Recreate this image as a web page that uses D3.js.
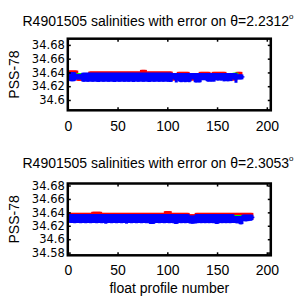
<!DOCTYPE html>
<html>
<head>
<meta charset="utf-8">
<script src="https://cdn.jsdelivr.net/npm/d3@7"></script>
<style>
  body { margin: 0; background: #fff; }
  svg { display: block; }
  text { font-family: "Liberation Sans", Arial, sans-serif; fill: #000; }
</style>
</head>
<body>
<div id="chart"></div>
<script>
// ---- data ----
const xTicks = [0, 50, 100, 150, 200];
const yTicksA = [34.6, 34.62, 34.64, 34.66, 34.68];
const yTicksB = [34.58, 34.6, 34.62, 34.64, 34.66, 34.68];
const titleA = 'R4901505 salinities with error on θ=2.2312';
const titleB = 'R4901505 salinities with error on θ=2.3053';
const yLabel = 'PSS-78';
const xLabel = 'float profile number';
const mapErr = 0.005;

// panel A: mapped (red), float (blue) per profile
const mapSalA = [
  34.6377,34.6377,34.6377,34.6377,34.6377,34.6377,34.6377,34.6377,34.6377,34.6330,
  34.6330,34.6330,34.6330,34.6330,34.6330,34.6330,34.6330,34.6330,34.6330,34.6330,
  34.6330,34.6362,34.6362,34.6362,34.6362,34.6362,34.6362,34.6362,34.6362,34.6362,
  34.6362,34.6362,34.6362,34.6362,34.6362,34.6362,34.6362,34.6362,34.6362,34.6362,
  34.6362,34.6362,34.6362,34.6362,34.6362,34.6362,34.6362,34.6362,34.6362,34.6362,
  34.6362,34.6362,34.6362,34.6362,34.6362,34.6362,34.6362,34.6362,34.6362,34.6362,
  34.6362,34.6362,34.6362,34.6362,34.6362,34.6362,34.6362,34.6362,34.6362,34.6362,
  34.6362,34.6362,34.6362,34.6387,34.6387,34.6387,34.6387,34.6387,34.6362,34.6362,
  34.6362,34.6362,34.6362,34.6362,34.6362,34.6362,34.6362,34.6362,34.6362,34.6362,
  34.6362,34.6362,34.6362,34.6362,34.6362,34.6362,34.6362,34.6362,34.6362,34.6362,
  34.6362,34.6362,34.6362,34.6362,34.6335,34.6335,34.6335,34.6335,34.6335,34.6335,
  34.6358,34.6358,34.6358,34.6358,34.6358,34.6358,34.6358,34.6358,34.6358,34.6358,
  34.6358,34.6335,34.6335,34.6335,34.6335,34.6335,34.6335,34.6335,34.6335,34.6335,
  34.6335,34.6335,34.6358,34.6358,34.6358,34.6358,34.6358,34.6358,34.6358,34.6358,
  34.6358,34.6358,34.6335,34.6335,34.6335,34.6358,34.6358,34.6358,34.6358,34.6358,
  34.6358,34.6358,34.6358,34.6358,34.6358,34.6358,34.6358,34.6358,34.6335,34.6335,
  34.6335,34.6335,34.6335,34.6335,34.6335,34.6335,34.6335,34.6335,34.6335,34.6358,
  34.6358,34.6358,34.6358,34.6358
];
const floatSalA = [
  34.6340,34.6339,34.6339,34.6339,34.6339,34.6339,34.6340,34.6338,34.6338,34.6338,
  34.6338,34.6338,34.6338,34.6338,
  34.6332,34.6330,34.6332,34.6334,34.6332,34.6330,34.6332,34.6332,34.6334,34.6332,
  34.6330,34.6332,34.6334,34.6332,34.6332,34.6330,34.6328,34.6332,34.6334,34.6332,
  34.6332,34.6330,34.6332,34.6334,34.6332,34.6332,34.6330,34.6332,34.6332,34.6334,
  34.6332,34.6330,34.6328,34.6332,34.6334,34.6332,34.6332,34.6330,34.6332,34.6334,
  34.6332,34.6332,34.6330,34.6332,34.6334,34.6332,34.6330,34.6332,34.6332,34.6334,
  34.6332,34.6328,34.6332,34.6334,34.6332,34.6332,34.6330,34.6332,34.6334,34.6332,
  34.6332,34.6330,34.6332,34.6332,34.6334,34.6332,34.6330,34.6328,34.6332,34.6334,
  34.6332,34.6332,34.6330,34.6332,34.6334,34.6332,34.6332,34.6330,34.6332,34.6334,
  34.6332,34.6330,34.6332,34.6334,34.6332,34.6332,34.6330,34.6332,34.6328,34.6330,
  34.6350,34.6350,34.6345,34.6340,34.6322,34.6345,34.6340,
  34.6330,34.6327,34.6324,34.6330,34.6327,34.6330,34.6324,34.6327,34.6330,34.6327,34.6324,34.6330,
  34.6347,34.6345,34.6347,34.6345,
  34.6324,34.6322,34.6324,34.6327,34.6322,34.6324,
  34.6340,34.6338,34.6340,34.6342,34.6338,34.6340,
  34.6332,34.6328,34.6330,34.6332,34.6328,34.6330,34.6332,34.6328,
  34.6345,34.6338,34.6342,34.6335,34.6345,34.6340,34.6335,34.6342,
  34.6338,34.6330,34.6335,34.6332,34.6338,34.6330,34.6335,34.6340,34.6332,
  34.6345,34.6348,34.6345,34.6342,34.6320,
  34.6335,34.6335,34.6335,34.6335,34.6335,34.6335,34.6335
];
const floatErrA = [
  0.0050,0.0061,0.0066,0.0066,0.0066,0.0066,0.0060,0.0038,0.0038,0.0038,
  0.0038,0.0038,0.0038,0.0038,
  0.0063,0.0065,0.0063,0.0061,0.0063,0.0065,0.0063,0.0063,0.0061,0.0063,
  0.0065,0.0063,0.0061,0.0063,0.0063,0.0065,0.0067,0.0063,0.0061,0.0063,
  0.0063,0.0065,0.0063,0.0061,0.0063,0.0063,0.0065,0.0063,0.0063,0.0061,
  0.0063,0.0065,0.0067,0.0063,0.0061,0.0063,0.0063,0.0065,0.0063,0.0061,
  0.0063,0.0063,0.0065,0.0063,0.0061,0.0063,0.0065,0.0063,0.0063,0.0061,
  0.0063,0.0067,0.0063,0.0061,0.0063,0.0063,0.0065,0.0063,0.0061,0.0063,
  0.0063,0.0065,0.0063,0.0063,0.0061,0.0063,0.0065,0.0067,0.0063,0.0061,
  0.0063,0.0063,0.0065,0.0063,0.0061,0.0063,0.0063,0.0065,0.0063,0.0061,
  0.0063,0.0065,0.0063,0.0061,0.0063,0.0063,0.0065,0.0063,0.0067,0.0065,
  0.0040,0.0040,0.0045,0.0050,0.0068,0.0045,0.0050,
  0.0060,0.0063,0.0066,0.0060,0.0063,0.0060,0.0066,0.0063,0.0060,0.0063,0.0066,0.0060,
  0.0043,0.0045,0.0043,0.0045,
  0.0066,0.0068,0.0066,0.0063,0.0068,0.0066,
  0.0050,0.0052,0.0050,0.0048,0.0052,0.0050,
  0.0058,0.0062,0.0060,0.0058,0.0062,0.0060,0.0058,0.0062,
  0.0045,0.0052,0.0048,0.0055,0.0045,0.0050,0.0055,0.0048,
  0.0052,0.0060,0.0055,0.0058,0.0052,0.0060,0.0055,0.0050,0.0058,
  0.0045,0.0042,0.0045,0.0048,0.0070,
  0.0035,0.0035,0.0035,0.0035,0.0035,0.0035,0.0010
];
// calibrated (green), only where it shows
const calProfA = [10, 11, 12, 13, 14, 141, 167, 168, 169, 170];
const calSalA  = [34.6372,34.6372,34.6372,34.6372,34.6372,34.6378,34.6375,34.6375,34.6375,34.6375];
const calErrA  = [0.0015,0.0015,0.0015,0.0015,0.0015,0.0010,0.0020,0.0020,0.0020,0.0020];

// panel B
const mapSalB = [
  34.6342,34.6342,34.6342,34.6342,34.6342,34.6342,34.6342,34.6342,34.6342,34.6342,
  34.6342,34.6342,34.6342,34.6342,34.6342,34.6342,34.6342,34.6342,34.6342,34.6342,
  34.6342,34.6342,34.6342,34.6342,34.6358,34.6358,34.6358,34.6358,34.6358,34.6358,
  34.6358,34.6358,34.6358,34.6342,34.6342,34.6342,34.6342,34.6342,34.6342,34.6342,
  34.6342,34.6342,34.6342,34.6342,34.6342,34.6342,34.6342,34.6342,34.6342,34.6342,
  34.6342,34.6342,34.6342,34.6342,34.6342,34.6342,34.6342,34.6342,34.6342,34.6342,
  34.6342,34.6342,34.6342,34.6342,34.6342,34.6342,34.6342,34.6342,34.6342,34.6342,
  34.6342,34.6342,34.6342,34.6342,34.6342,34.6342,34.6342,34.6342,34.6342,34.6342,
  34.6342,34.6342,34.6342,34.6342,34.6342,34.6342,34.6342,34.6342,34.6342,34.6342,
  34.6342,34.6342,34.6342,34.6342,34.6342,34.6342,34.6342,34.6367,34.6367,34.6367,
  34.6367,34.6367,34.6367,34.6342,34.6342,34.6342,34.6342,34.6342,34.6342,34.6342,
  34.6342,34.6342,34.6342,34.6342,34.6342,34.6342,34.6342,34.6342,34.6342,34.6342,
  34.6342,34.6320,34.6320,34.6320,34.6320,34.6320,34.6320,34.6320,34.6342,34.6342,
  34.6342,34.6342,34.6342,34.6342,34.6342,34.6342,34.6342,34.6342,34.6342,34.6342,
  34.6342,34.6342,34.6342,34.6342,34.6342,34.6342,34.6342,34.6342,34.6342,34.6342,
  34.6342,34.6342,34.6342,34.6342,34.6342,34.6342,34.6342,34.6342,34.6342,34.6342,
  34.6342,34.6342,34.6342,34.6342,34.6342,34.6342,34.6342,34.6342,34.6342,34.6342,
  34.6342,34.6342,34.6342,34.6342,34.6342,34.6342,34.6342,34.6342,34.6342,34.6342,
  34.6342,34.6342,34.6342,34.6342,34.6342
];
const floatSalB = [
  34.6317,34.6309,34.6307,34.6307,34.6309,34.6307,34.6305,34.6307,34.6309,34.6307,
  34.6307,34.6309,34.6305,34.6307,34.6307,34.6309,34.6307,34.6305,34.6307,34.6309,
  34.6307,34.6307,34.6305,34.6309,34.6307,34.6307,34.6309,34.6307,34.6305,34.6307,
  34.6307,34.6309,34.6307,34.6305,34.6307,34.6307,34.6309,34.6302,34.6305,34.6307,
  34.6309,34.6307,34.6307,34.6305,34.6307,34.6309,34.6307,34.6307,34.6305,34.6307,
  34.6307,34.6309,34.6307,34.6305,34.6307,34.6307,34.6309,34.6307,34.6302,34.6307,
  34.6309,34.6307,34.6307,34.6305,34.6307,34.6309,34.6307,34.6307,34.6305,34.6307,
  34.6307,34.6309,34.6307,34.6305,34.6307,34.6307,34.6309,34.6307,34.6305,34.6307,
  34.6307,34.6305,34.6300,34.6300,34.6302,34.6300,34.6305,34.6307,34.6309,34.6307,
  34.6307,34.6305,34.6307,34.6309,34.6307,34.6307,34.6305,34.6307,34.6309,34.6307,
  34.6307,34.6305,34.6307,34.6309,34.6307,34.6305,34.6307,34.6300,34.6300,34.6302,
  34.6307,34.6317,34.6307,34.6305,34.6307,34.6309,34.6307,34.6305,34.6307,34.6309,34.6307,
  34.6295,34.6292,34.6295,34.6290,34.6292,34.6295,34.6292,
  34.6307,34.6305,34.6307,34.6309,34.6307,34.6305,34.6307,34.6309,34.6307,34.6305,34.6307,34.6309,
  34.6307,34.6305,34.6307,34.6309,34.6307,34.6305,34.6307,34.6307,34.6300,34.6300,
  34.6302,34.6307,34.6309,34.6307,34.6305,34.6307,34.6309,34.6307,34.6305,34.6307,
  34.6309,34.6307,34.6305,34.6307,34.6309,34.6307,
  34.6295,34.6293,34.6295,34.6290,34.6295,34.6293,34.6285,34.6283,34.6285,
  34.6317,34.6320,34.6317,34.6315,34.6320,34.6317,34.6320,34.6323,34.6320,34.6325,
  34.6325
];
const floatErrB = [
  0.0055,0.0063,0.0065,0.0065,0.0063,0.0065,0.0067,0.0065,0.0063,0.0065,
  0.0065,0.0063,0.0067,0.0065,0.0065,0.0063,0.0065,0.0067,0.0065,0.0063,
  0.0065,0.0065,0.0067,0.0063,0.0065,0.0065,0.0063,0.0065,0.0067,0.0065,
  0.0065,0.0063,0.0065,0.0067,0.0065,0.0065,0.0063,0.0070,0.0067,0.0065,
  0.0063,0.0065,0.0065,0.0067,0.0065,0.0063,0.0065,0.0065,0.0067,0.0065,
  0.0065,0.0063,0.0065,0.0067,0.0065,0.0065,0.0063,0.0065,0.0070,0.0065,
  0.0063,0.0065,0.0065,0.0067,0.0065,0.0063,0.0065,0.0065,0.0067,0.0065,
  0.0065,0.0063,0.0065,0.0067,0.0065,0.0065,0.0063,0.0065,0.0067,0.0065,
  0.0065,0.0067,0.0072,0.0072,0.0070,0.0072,0.0067,0.0065,0.0063,0.0065,
  0.0065,0.0067,0.0065,0.0063,0.0065,0.0065,0.0067,0.0065,0.0063,0.0065,
  0.0065,0.0067,0.0065,0.0063,0.0065,0.0067,0.0065,0.0072,0.0072,0.0070,
  0.0065,0.0055,0.0065,0.0067,0.0065,0.0063,0.0065,0.0067,0.0065,0.0063,0.0065,
  0.0055,0.0058,0.0055,0.0060,0.0058,0.0055,0.0058,
  0.0065,0.0067,0.0065,0.0063,0.0065,0.0067,0.0065,0.0063,0.0065,0.0067,0.0065,0.0063,
  0.0065,0.0067,0.0065,0.0063,0.0065,0.0067,0.0065,0.0065,0.0072,0.0072,
  0.0070,0.0065,0.0063,0.0065,0.0067,0.0065,0.0063,0.0065,0.0067,0.0065,
  0.0063,0.0065,0.0067,0.0065,0.0063,0.0065,
  0.0050,0.0052,0.0050,0.0055,0.0050,0.0052,0.0060,0.0062,0.0060,
  0.0048,0.0045,0.0048,0.0050,0.0045,0.0048,0.0045,0.0042,0.0045,0.0040,
  0.0012
];
const calProfB = [167, 168, 170, 171, 173, 175];
const calSalB  = [34.6350,34.6350,34.6350,34.6350,34.6350,34.6350];
const calErrB  = [0.0008,0.0008,0.0008,0.0008,0.0008,0.0008];

// ---- drawing ----
const width = 300, height = 300;
const svg = d3.select('#chart').append('svg')
  .attr('width', width)
  .attr('height', height);

function drawPanel(cfg) {
  const x = d3.scaleLinear().domain([0, 204]).range([cfg.left, cfg.right]);
  const y = d3.scaleLinear().domain(cfg.yDomain).range([cfg.bottom, cfg.top]);
  const g = svg.append('g');

  g.append('clipPath').attr('id', cfg.id)
    .append('rect')
    .attr('x', cfg.left).attr('y', cfg.top)
    .attr('width', cfg.right - cfg.left).attr('height', cfg.bottom - cfg.top);

  const plot = g.append('g').attr('clip-path', `url(#${cfg.id})`);

  // errorbars drawn as thin filled columns, one per profile
  const bars = (data, color) => plot.append('g')
    .selectAll('rect')
    .data(data)
    .join('rect')
    .attr('x', d => x(d.p) - 1.5)
    .attr('width', 3)
    .attr('y', d => y(d.s + d.e))
    .attr('height', d => y(d.s - d.e) - y(d.s + d.e))
    .attr('fill', color);

  bars(cfg.mapSal.map((s, i) => ({ p: i + 1, s, e: mapErr })), '#ff0000');
  bars(cfg.calProf.map((p, i) => ({ p, s: cfg.calSal[i], e: cfg.calErr[i] })), '#00ff00');
  bars(cfg.floatSal.map((s, i) => ({ p: i + 1, s, e: cfg.floatErr[i] })), '#0000ff');

  // axes, ticks pointing inward
  const fmt = d => String(+d.toFixed(2));
  const xAxis = g.append('g')
    .attr('transform', `translate(0,${cfg.bottom})`)
    .call(d3.axisBottom(x).tickValues(xTicks).tickSizeInner(-3).tickSizeOuter(0).tickPadding(cfg.xPad));
  g.append('g')
    .attr('transform', `translate(0,${cfg.top})`)
    .call(d3.axisTop(x).tickValues(xTicks).tickSizeInner(-3).tickSizeOuter(0).tickFormat(''));
  const yAxis = g.append('g')
    .attr('transform', `translate(${cfg.left},0)`)
    .call(d3.axisLeft(y).tickValues(cfg.yTicks).tickSizeInner(-3).tickSizeOuter(0).tickPadding(3).tickFormat(fmt));
  g.append('g')
    .attr('transform', `translate(${cfg.right},0)`)
    .call(d3.axisRight(y).tickValues(cfg.yTicks).tickSizeInner(-3).tickSizeOuter(0).tickFormat(''));

  g.selectAll('.domain').remove();
  g.selectAll('.tick line').attr('stroke', '#000').attr('stroke-width', 1.5);
  xAxis.selectAll('.tick text')
    .style('font-family', '"Liberation Sans", Arial, sans-serif')
    .style('font-size', '14px')
    .attr('fill', '#000');
  yAxis.selectAll('.tick text')
    .style('font-family', '"DejaVu Sans", sans-serif')
    .style('font-size', '11.5px')
    .attr('fill', '#000');

  g.append('rect')
    .attr('x', cfg.left).attr('y', cfg.top)
    .attr('width', cfg.right - cfg.left).attr('height', cfg.bottom - cfg.top)
    .attr('fill', 'none')
    .attr('stroke', '#000')
    .attr('stroke-width', 2.5);

  // title with superscript degree mark
  const t = g.append('text')
    .attr('x', cfg.titleX).attr('y', cfg.titleY)
    .attr('text-anchor', 'middle')
    .style('font-size', '14px');
  t.append('tspan').text(cfg.title);
  t.append('tspan').attr('dy', -7).style('font-size', '8px').text('o');

  g.append('text')
    .attr('transform', `translate(19,${(cfg.top + cfg.bottom) / 2}) rotate(-90)`)
    .attr('text-anchor', 'middle')
    .style('font-size', '14px')
    .text(yLabel);

  if (cfg.xLabel) {
    g.append('text')
      .attr('x', (cfg.left + cfg.right) / 2)
      .attr('y', 293)
      .attr('text-anchor', 'middle')
      .style('font-size', '14px')
      .text(cfg.xLabel);
  }
}

drawPanel({
  id: 'clipA', left: 67.8, right: 270.8, top: 38.7, bottom: 110.3,
  yDomain: [34.585, 34.689], yTicks: yTicksA, xPad: 11,
  title: titleA, titleX: 158, titleY: 26,
  mapSal: mapSalA, floatSal: floatSalA, floatErr: floatErrA,
  calProf: calProfA, calSal: calSalA, calErr: calErrA
});

drawPanel({
  id: 'clipB', left: 67.8, right: 270.8, top: 183.5, bottom: 255.3,
  yDomain: [34.576, 34.683], yTicks: yTicksB, xPad: 10,
  title: titleB, titleX: 158, titleY: 168,
  mapSal: mapSalB, floatSal: floatSalB, floatErr: floatErrB,
  calProf: calProfB, calSal: calSalB, calErr: calErrB,
  xLabel: xLabel
});
</script>
</body>
</html>
